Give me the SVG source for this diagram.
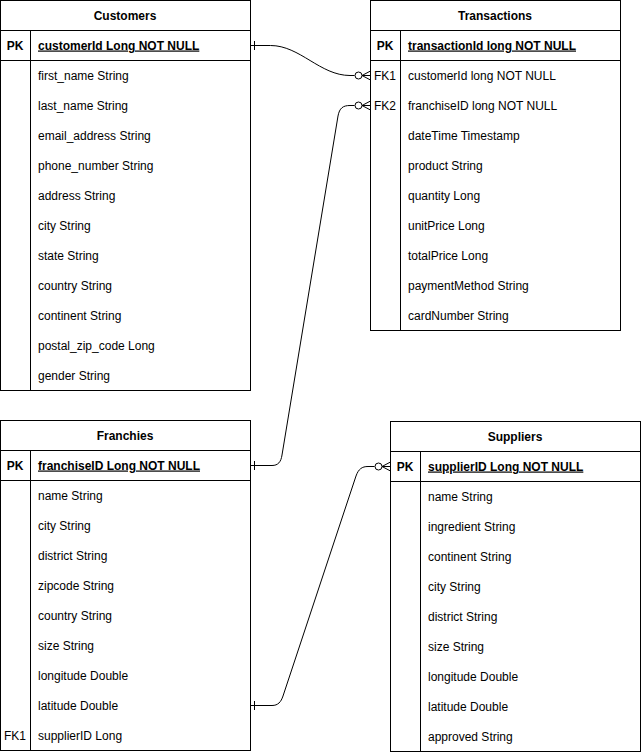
<svg xmlns="http://www.w3.org/2000/svg" width="641" height="752" viewBox="0 0 641 752">
<style>
.box{fill:#fff;stroke:#000;stroke-width:1}
.ln{stroke:#000;stroke-width:1;fill:none}
text{font-family:"Liberation Sans",Arial,sans-serif;font-size:12px;fill:#000}
.h{font-weight:bold;text-anchor:middle}
.k{font-weight:bold;text-anchor:middle}
.fk{text-anchor:middle}
.pk{font-weight:bold;text-decoration:underline}
.c{stroke:#000;stroke-width:1;fill:none}
</style>
<rect width="641" height="752" fill="#fff"/>
<g id="customers">
<rect class="box" x="0.5" y="0.5" width="250" height="390"/>
<path class="ln" d="M0.5 30.5H250.5M0.5 60.5H250.5M30.5 30.5V390.5"/>
<text class="h" x="125" y="19.5">Customers</text>
<text class="k" x="15" y="49.5">PK</text>
<text class="pk" x="38" y="49.5">customerId Long NOT NULL</text>
<text x="38" y="79.5">first_name String</text>
<text x="38" y="109.5">last_name String</text>
<text x="38" y="139.5">email_address String</text>
<text x="38" y="169.5">phone_number String</text>
<text x="38" y="199.5">address String</text>
<text x="38" y="229.5">city String</text>
<text x="38" y="259.5">state String</text>
<text x="38" y="289.5">country String</text>
<text x="38" y="319.5">continent String</text>
<text x="38" y="349.5">postal_zip_code Long</text>
<text x="38" y="379.5">gender String</text>
</g>
<g id="transactions">
<rect class="box" x="370.5" y="0.5" width="250" height="330"/>
<path class="ln" d="M370.5 30.5H620.5M370.5 60.5H620.5M400.5 30.5V330.5"/>
<text class="h" x="495" y="19.5">Transactions</text>
<text class="k" x="385" y="49.5">PK</text>
<text class="pk" x="408" y="49.5">transactionId long NOT NULL</text>
<text class="fk" x="385" y="79.5">FK1</text>
<text x="408" y="79.5">customerId long NOT NULL</text>
<text class="fk" x="385" y="109.5">FK2</text>
<text x="408" y="109.5">franchiseID long NOT NULL</text>
<text x="408" y="139.5">dateTime Timestamp</text>
<text x="408" y="169.5">product String</text>
<text x="408" y="199.5">quantity Long</text>
<text x="408" y="229.5">unitPrice Long</text>
<text x="408" y="259.5">totalPrice Long</text>
<text x="408" y="289.5">paymentMethod String</text>
<text x="408" y="319.5">cardNumber String</text>
</g>
<g id="franchies">
<rect class="box" x="0.5" y="420.5" width="250" height="330"/>
<path class="ln" d="M0.5 450.5H250.5M0.5 480.5H250.5M30.5 450.5V750.5"/>
<text class="h" x="125" y="439.5">Franchies</text>
<text class="k" x="15" y="469.5">PK</text>
<text class="pk" x="38" y="469.5">franchiseID Long NOT NULL</text>
<text x="38" y="499.5">name String</text>
<text x="38" y="529.5">city String</text>
<text x="38" y="559.5">district String</text>
<text x="38" y="589.5">zipcode String</text>
<text x="38" y="619.5">country String</text>
<text x="38" y="649.5">size String</text>
<text x="38" y="679.5">longitude Double</text>
<text x="38" y="709.5">latitude Double</text>
<text class="fk" x="15" y="739.5">FK1</text>
<text x="38" y="739.5">supplierID Long</text>
</g>
<g id="suppliers">
<rect class="box" x="390.5" y="421.5" width="250" height="330"/>
<path class="ln" d="M390.5 451.5H640.5M390.5 481.5H640.5M420.5 451.5V751.5"/>
<text class="h" x="515" y="440.5">Suppliers</text>
<text class="k" x="405" y="470.5">PK</text>
<text class="pk" x="428" y="470.5">supplierID Long NOT NULL</text>
<text x="428" y="500.5">name String</text>
<text x="428" y="530.5">ingredient String</text>
<text x="428" y="560.5">continent String</text>
<text x="428" y="590.5">city String</text>
<text x="428" y="620.5">district String</text>
<text x="428" y="650.5">size String</text>
<text x="428" y="680.5">longitude Double</text>
<text x="428" y="710.5">latitude Double</text>
<text x="428" y="740.5">approved String</text>
</g>
<g id="connectors">
<path class="c" d="M250.5 45.5H270.5C300 45.5 320 75.5 350 75.5H354.5"/>
<path class="c" d="M254.5 41V50"/>
<circle class="c" cx="358.5" cy="75.5" r="3.5"/>
<path class="c" d="M362 75.5H370.5M362 75.5L370.5 71M362 75.5L370.5 80"/>
<path class="c" d="M250.5 465.5H272C278 465.5 281 462 282 455L338 116C339.5 108 343 105.5 350 105.5H354.5"/>
<path class="c" d="M254.5 461V470"/>
<circle class="c" cx="358.5" cy="105.5" r="3.5"/>
<path class="c" d="M362 105.5H370.5M362 105.5L370.5 101M362 105.5L370.5 110"/>
<path class="c" d="M250.5 705.5H272C278 705.5 281 702 283 696L356 476C358.5 469 362 466.5 368 466.5H374.5"/>
<path class="c" d="M254.5 701V710"/>
<circle class="c" cx="378.5" cy="466.5" r="3.5"/>
<path class="c" d="M382 466.5H390.5M382 466.5L390.5 462M382 466.5L390.5 471"/>
</g>
</svg>
